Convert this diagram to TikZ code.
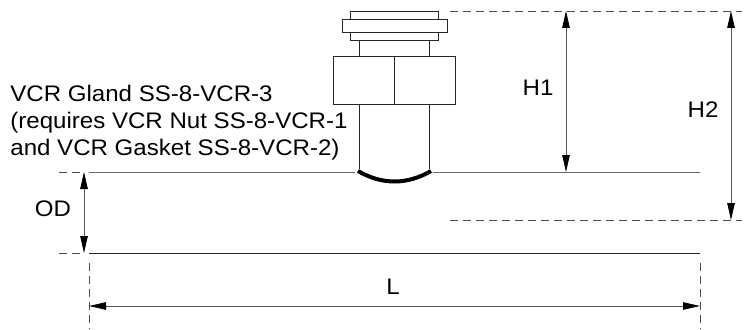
\documentclass[tikz,border=0pt]{standalone}
\usepackage{fontspec}
\setmainfont[FakeStretch=1.07]{Liberation Sans}
\usetikzlibrary{arrows.meta}

\begin{document}
\begin{tikzpicture}[x = 1pt, y = -1pt, line width = .8pt,
                        part/.style={draw=black!85, fill=white},
                        dim/.style={draw=black!65, {Triangle[length=17pt,width=7.5pt,black]}-{Triangle[length=17pt,width=7.5pt,black]}},
                        ext/.style={draw=black!70, dash pattern=on 8pt off 5pt},
                        pipe/.style={draw=black!60, line width=1pt},
                        lbl/.style={font=\fontsize{22.5}{27}\selectfont, inner sep=0pt}]
      \useasboundingbox (0,0) rectangle (746,329);
      % corner points
      \coordinate (topl) at (450,11);
      \coordinate (topr) at (742,11);
      \coordinate (midl) at (450,220);
      \coordinate (midr) at (742,220);
      \coordinate (h1a) at (566,11);
      \coordinate (h1b) at (566,172);
      \coordinate (h2a) at (731,11);
      \coordinate (h2b) at (731,220);
      \coordinate (odl) at (59,172);
      \coordinate (oda) at (84,172);
      \coordinate (odm) at (59,253);
      \coordinate (odb) at (84,253);
      \coordinate (pipea) at (89,172);
      \coordinate (pipeb) at (355,172);
      \coordinate (pipec) at (433,172);
      \coordinate (piped) at (700,172);
      \coordinate (pipee) at (89,253);
      \coordinate (pipef) at (700,253);
      \coordinate (la) at (89,263);
      \coordinate (lb) at (89,329);
      \coordinate (lc) at (700,263);
      \coordinate (ld) at (700,329);
      \coordinate (le) at (89,306);
      \coordinate (lf) at (700,306);
      \coordinate (neckl) at (359,40);
      \coordinate (neckr) at (429,40);
      \coordinate (neckm) at (359,56);
      \coordinate (neckn) at (429,56);
      \coordinate (tubel) at (359,104);
      \coordinate (tuber) at (429,104);
      \coordinate (tubem) at (359,169);
      \coordinate (tuben) at (429,169);
      \coordinate (curvel) at (358,171);
      \coordinate (curver) at (431,171);
      \coordinate (nutt) at (394,56);
      \coordinate (nutb) at (394,104);
      % gland
      \draw[part] (350,11) rectangle (438,40);
      \draw[part] (342,19) rectangle (447,32);
      \draw[part] (333,56) rectangle (455,104);
      \draw[part] (nutt) -- (nutb);
      \foreach \a/\b in {neckl/neckm, neckr/neckn, tubel/tubem, tuber/tuben}{
        \draw[part] (\a) -- (\b);
      }
      \draw[line width=4pt] (curvel) .. controls (382,185) and (407,185) .. (curver);
      % pipe
      \draw[pipe] (pipea) -- (pipeb);
      \draw[pipe] (pipec) -- (piped);
      \draw[part] (pipee) -- (pipef);
      % extension lines
      \foreach \a/\b in {topl/topr, midl/midr, odl/oda, odm/odb, la/lb, lc/ld}{
        \draw[ext] (\a) -- (\b);
      }
      % dimensions
      \draw[dim] (h1a) -- (h1b);
      \draw[dim] (h2a) -- (h2b);
      \draw[dim] (oda) -- (odb);
      \draw[dim] (le) -- (lf);
      \node[lbl] (H1) at (538,88) {H1};
      \node[lbl] (H2) at (703,110) {H2};
      \node[lbl] (OD) at (53,209) {OD};
      \node[lbl] (L) at (393,287) {L};
      \node[lbl, align=left, anchor=north west] (gland) at (10,85) {VCR Gland SS-8-VCR-3\\(requires VCR Nut SS-8-VCR-1\\and VCR Gasket SS-8-VCR-2)};
    \end{tikzpicture}
\end{document}
